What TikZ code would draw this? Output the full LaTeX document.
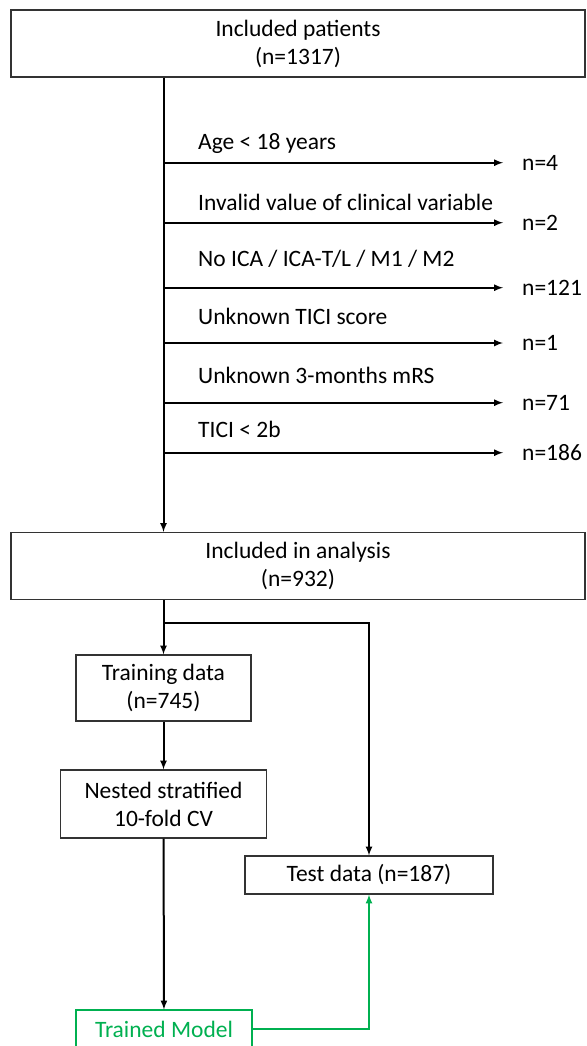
\documentclass[tikz,border=0pt]{standalone}
\usepackage{fontspec}
\setmainfont{Carlito}
\usepackage{xcolor}
\usepackage{tikz}
\usetikzlibrary{arrows,positioning}
\definecolor{modelgreen}{HTML}{00B050}
\tikzset{%
	block/.style    = {draw=black!80, line width=1.1pt, rectangle, align=center, minimum height=66pt, font=\fontsize{23.5}{28}\selectfont}, % Box
	wide/.style     = {block, minimum width=574pt, minimum height=67pt}, % Full width box
	flat/.style     = {block, minimum height=38pt}, % One line box
	excl/.style     = {anchor=base west, inner sep=0pt, font=\fontsize{23.5}{28}\selectfont}, % Exclusion reason
	count/.style    = {inner sep=0pt, font=\fontsize{23.5}{28}\selectfont}, % Excluded count
	waypoint/.style = {coordinate},
	flow/.style     = {line width=2pt, ->},
}

\begin{document}
\begin{tikzpicture}[x=1pt,y=-1pt,node distance=60pt,>=latex]
	\useasboundingbox (0,0) rectangle (586,1046);
	\node [wide] (inc) at (298,43.5) {Included patients\\(n=1317)};
	\node [wide] (ana) [below of=inc,node distance=522.5pt] {Included in analysis\\(n=932)};
	\node [block,minimum width=175pt] (train) at (163.5,688) {Training data\\(n=745)};
	\node [block,minimum width=206pt,minimum height=68pt] (cv) [below of=train,node distance=116pt] {Nested stratified\\10-fold CV};
	\node [flat,minimum width=248pt] (test) at (369,875) {Test data (n=187)};
	\node [flat,minimum width=176pt,draw=modelgreen,text=modelgreen] (model) at (164,1029) {Trained Model};
	
	% exclusions
	\node [waypoint] (s1) at (163.5,162.7) {};
	\node [waypoint] (e1) at (503,162.7) {};
	\node [excl] (x1) at (198,149.5) {Age < 18 years};
	\node [count,anchor=west] (n1) [right=19pt of e1] {n=4};
	
	\node [waypoint] (s2) at (163.5,222.7) {};
	\node [waypoint] (e2) at (503,222.7) {};
	\node [excl] (x2) at (198,210.5) {Invalid value of clinical variable};
	\node [count,anchor=west] (n2) [right=19pt of e2] {n=2};
	
	\node [waypoint] (s3) at (163.5,287.7) {};
	\node [waypoint] (e3) at (503,287.7) {};
	\node [excl] (x3) at (198,266) {No ICA / ICA-T/L / M1 / M2};
	\node [count,anchor=west] (n3) [right=19pt of e3] {n=121};
	
	\node [waypoint] (s4) at (163.5,343) {};
	\node [waypoint] (e4) at (503,343) {};
	\node [excl] (x4) at (198,324) {Unknown TICI score};
	\node [count,anchor=west] (n4) [right=19pt of e4] {n=1};
	
	\node [waypoint] (s5) at (163.5,402.7) {};
	\node [waypoint] (e5) at (503,402.7) {};
	\node [excl] (x5) at (198,383) {Unknown 3-months mRS};
	\node [count,anchor=west] (n5) [right=19pt of e5] {n=71};
	
	\node [waypoint] (s6) at (163.5,452.7) {};
	\node [waypoint] (e6) at (503,452.7) {};
	\node [excl] (x6) at (198,437) {TICI < 2b};
	\node [count,anchor=west] (n6) [right=19pt of e6] {n=186};
	
	\node [waypoint] (split) at (163.5,622.7) {};
	
	\draw[flow] (inc.south -| train) -- (ana.north -| train);
	\draw[flow] (s1) -- (e1);
	\draw[flow] (s2) -- (e2);
	\draw[flow] (s3) -- (e3);
	\draw[flow] (s4) -- (e4);
	\draw[flow] (s5) -- (e5);
	\draw[flow] (s6) -- (e6);
	\draw[flow] (ana.south -| train) -- (train);
	\draw[flow] (split) -| (test);
	\draw[flow] (train) -- (cv);
	\draw[flow] (cv) -- (model);
	\draw[flow,modelgreen] (model) -| (test);
\end{tikzpicture}
\end{document}
